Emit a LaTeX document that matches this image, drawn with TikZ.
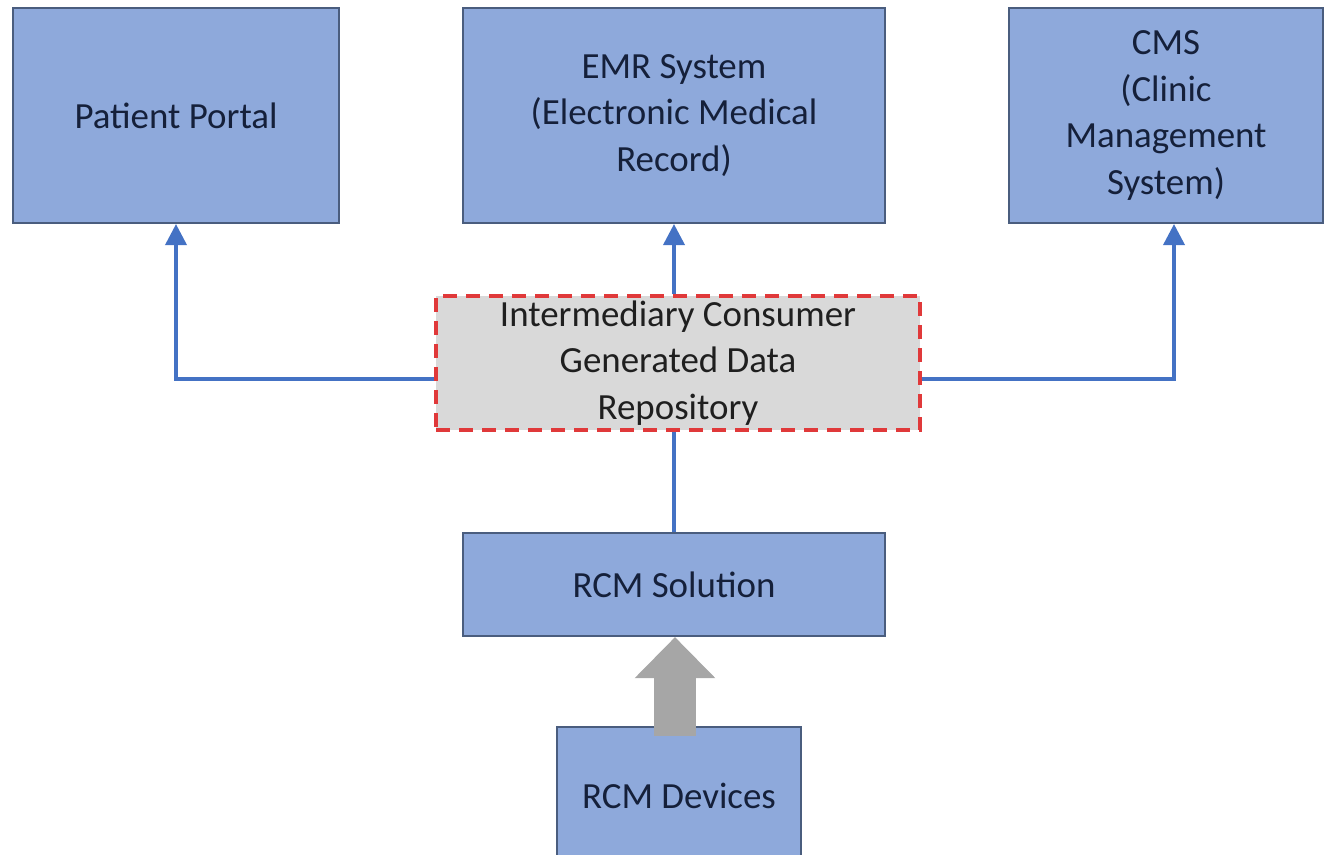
\documentclass[tikz,border=0pt]{standalone}
\usepackage{fontspec}
\setmainfont{Carlito}
\usepackage{tikz}
\usetikzlibrary{arrows.meta,calc,positioning}
\definecolor{boxblue}{HTML}{8EA9DB}
\definecolor{boxline}{HTML}{4A5D7E}
\definecolor{boxtext}{HTML}{15203A}
\definecolor{linkblue}{HTML}{4472C4}
\definecolor{repored}{HTML}{E0393A}
\definecolor{repofill}{HTML}{D9D9D9}
\definecolor{fatgray}{HTML}{A6A6A6}
\tikzset{
    semithick,
    sys/.style ={rectangle, draw=boxline, line width=1.2pt, fill=boxblue, text=boxtext,
                 align=center, inner sep=0pt, font=\fontsize{21}{26.4}\selectfont},
    repo/.style={rectangle, draw=repored, fill=repofill, line width=1.8pt, text=black!88,
                 dash pattern=on 0.28cm off 0.18cm, align=center, inner sep=0pt,
                 font=\fontsize{21}{26.4}\selectfont},
    link/.style={draw=linkblue, line width=2.1pt, -{Triangle[length=0.42cm,width=0.42cm]}},
    plain/.style={draw=linkblue, line width=2.1pt},
    fat/.style={draw=fatgray, line width=0.84cm, -{Triangle[length=0.82cm,width=1.56cm]}}
}
\begin{document}
\begin{tikzpicture}
    \useasboundingbox (0,0) rectangle (26.48,17.1);
    \node[sys, minimum width=6.52cm, minimum height=4.3cm] (1) at (3.52,14.79) {Patient Portal};
    \node[sys, minimum width=8.44cm, minimum height=4.3cm] (2) at (13.48,14.79) {EMR System\\(Electronic Medical\\Record)};
    \node[sys, minimum width=6.28cm, minimum height=4.3cm] (3) at (23.32,14.79) {CMS\\(Clinic\\Management\\System)};
    \node[repo, minimum width=9.68cm, minimum height=2.68cm] (4) at (13.56,9.84) {Intermediary Consumer\\Generated Data\\Repository};
    \node[sys, minimum width=8.44cm, minimum height=2.06cm] (5) at (13.48,5.41) {RCM Solution};
    \node[sys, minimum width=4.88cm, minimum height=2.76cm] (6) at (13.58,1.18) {RCM Devices};

    \draw[link] ([yshift=-0.32cm]4.west) -| (1.south);
    \draw[link] ([yshift=-0.32cm]4.east) -| ([xshift=0.16cm]3.south);
    \draw[link] (2.south |- 4.north) -- (2.south);
    \draw[plain] (5.north |- 4.south) -- (5.north);
    \draw[fat] ([xshift=-0.08cm,yshift=-0.2cm]6.north) -- ([xshift=-0.08cm]6.north |- 5.south);
\end{tikzpicture}
\end{document}
